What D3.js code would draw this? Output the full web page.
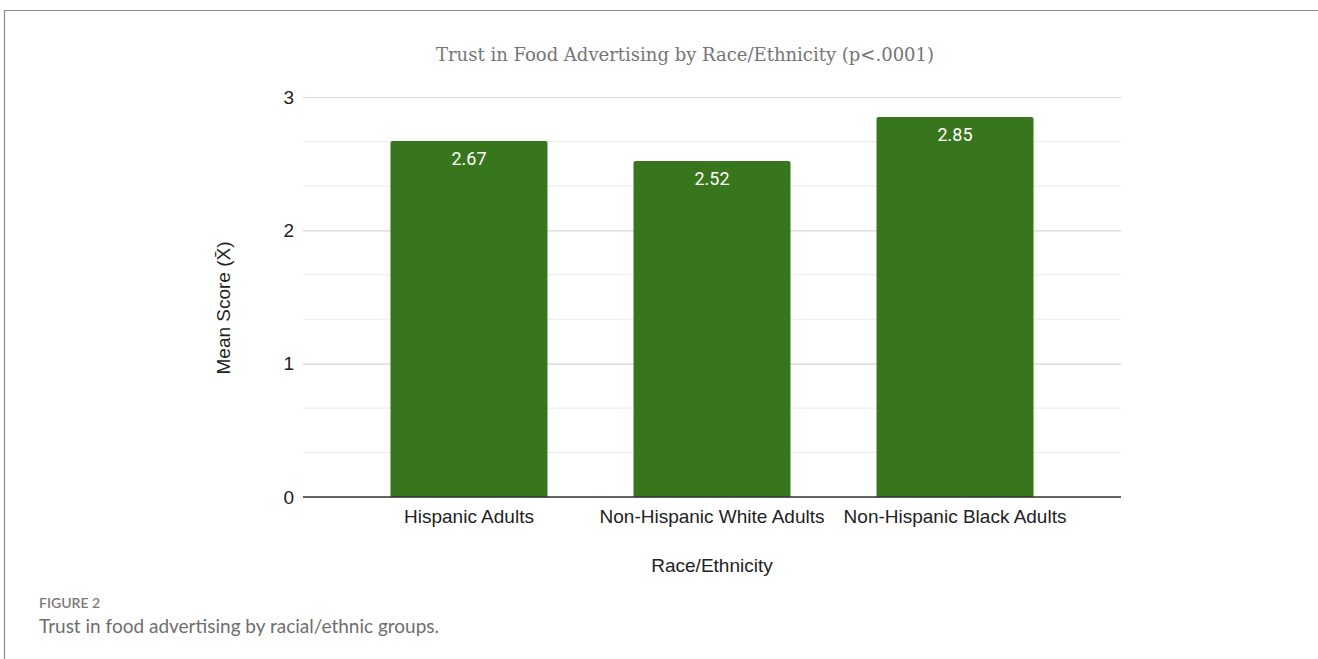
<!DOCTYPE html>
<meta charset="utf-8">
<html>
<head>
<style>
  body { margin: 0; background: #fff; }
  svg { display: block; }
</style>
</head>
<body>
<script src="https://d3js.org/d3.v7.min.js"></script>
<script>

// data
var groups = ["Hispanic Adults", "Non-Hispanic White Adults", "Non-Hispanic Black Adults"];
var means = [2.67, 2.52, 2.85];
var yTicks = [0, 1, 2, 3];
var minorTicks = [1/3, 2/3, 4/3, 5/3, 7/3, 8/3];

var W = 1318, H = 659;
var plot = {left: 303, right: 1121, top: 97, bottom: 497};
var sans = "'Liberation Sans', Arial, sans-serif";

var svg = d3.select("body").append("svg")
  .attr("width", W)
  .attr("height", H);

// frame of the figure panel
svg.append("line")
  .attr("x1", 4).attr("x2", W).attr("y1", 10.5).attr("y2", 10.5)
  .attr("stroke", "#8a8a8a").attr("stroke-width", 1.2);
svg.append("line")
  .attr("x1", 4.5).attr("x2", 4.5).attr("y1", 10).attr("y2", H)
  .attr("stroke", "#8a8a8a").attr("stroke-width", 1.2);

var x = d3.scaleBand()
  .domain(groups)
  .range([plot.left, plot.right])
  .paddingInner(0.354)
  .paddingOuter(0.36);

var y = d3.scaleLinear()
  .domain([0, 3])
  .range([plot.bottom, plot.top]);

// minor gridlines
svg.append("g")
  .selectAll("line")
  .data(minorTicks)
  .enter().append("line")
  .attr("x1", plot.left).attr("x2", plot.right)
  .attr("y1", function(d) { return y(d); })
  .attr("y2", function(d) { return y(d); })
  .attr("stroke", "#ebebeb").attr("stroke-width", 1);

// major gridlines + labels through the axis
var yAxis = d3.axisLeft(y)
  .tickValues(yTicks)
  .tickSize(-(plot.right - plot.left))
  .tickPadding(9)
  .tickFormat(d3.format("d"));

var gy = svg.append("g")
  .attr("transform", "translate(" + plot.left + ",0)")
  .call(yAxis);
gy.select(".domain").remove();
gy.selectAll(".tick line").attr("stroke", "#d6d6d6").attr("stroke-width", 1.2);
gy.selectAll(".tick text")
  .attr("font-family", sans)
  .attr("font-size", 19)
  .attr("fill", "#222");

// bars, top corners slightly rounded
var r = 2;
svg.append("g")
  .selectAll("path")
  .data(groups)
  .enter().append("path")
  .attr("fill", "#38761d")
  .attr("d", function(d, i) {
    var x0 = x(d), x1 = x(d) + x.bandwidth(), y0 = y(means[i]), yb = y(0);
    return "M" + x0 + "," + yb + "V" + (y0 + r) + "Q" + x0 + "," + y0 + " " + (x0 + r) + "," + y0 +
      "H" + (x1 - r) + "Q" + x1 + "," + y0 + " " + x1 + "," + (y0 + r) + "V" + yb + "Z";
  });

// value labels inside bars
svg.append("g")
  .selectAll("text")
  .data(groups)
  .enter().append("text")
  .attr("x", function(d) { return x(d) + x.bandwidth() / 2; })
  .attr("y", function(d, i) { return y(means[i]) + 24; })
  .attr("text-anchor", "middle")
  .attr("font-family", "Roboto, 'Liberation Sans', sans-serif")
  .attr("font-size", 18)
  .attr("fill", "#fff")
  .text(function(d, i) { return means[i].toFixed(2); });

// x axis
var xAxis = d3.axisBottom(x).tickSize(0);
var gx = svg.append("g")
  .attr("transform", "translate(0," + plot.bottom + ")")
  .call(xAxis);
gx.select(".domain").remove();
gx.selectAll(".tick text")
  .attr("y", 26)
  .attr("dy", 0)
  .attr("font-family", sans)
  .attr("font-size", 19)
  .attr("fill", "#222");

svg.append("line")
  .attr("x1", plot.left).attr("x2", plot.right)
  .attr("y1", y(0)).attr("y2", y(0))
  .attr("stroke", "#333").attr("stroke-width", 1.5);

// titles
svg.append("text")
  .attr("x", 685).attr("y", 61)
  .attr("text-anchor", "middle")
  .attr("font-family", "Georgia, 'DejaVu Serif', serif")
  .attr("font-size", 18)
  .attr("fill", "#757575")
  .text("Trust in Food Advertising by Race/Ethnicity (p<.0001)");

svg.append("text")
  .attr("x", 712).attr("y", 572)
  .attr("text-anchor", "middle")
  .attr("font-family", sans)
  .attr("font-size", 19)
  .attr("fill", "#222")
  .text("Race/Ethnicity");

svg.append("text")
  .attr("transform", "translate(230,308) rotate(-90)")
  .attr("text-anchor", "middle")
  .attr("font-family", sans)
  .attr("font-size", 19)
  .attr("fill", "#222")
  .text("Mean Score (X\u0304)");

// caption
svg.append("text")
  .attr("x", 39).attr("y", 608)
  .attr("font-family", "Lato, 'Open Sans', sans-serif")
  .attr("font-size", 14)
  .attr("font-weight", 600)
  .attr("fill", "#7a7a7a")
  .text("FIGURE 2");

svg.append("text")
  .attr("x", 39).attr("y", 633)
  .attr("font-family", "Lato, 'Open Sans', sans-serif")
  .attr("font-size", 19)
  .attr("fill", "#6e6e6e")
  .text("Trust in food advertising by racial/ethnic groups.");

</script>
</body>
</html>
